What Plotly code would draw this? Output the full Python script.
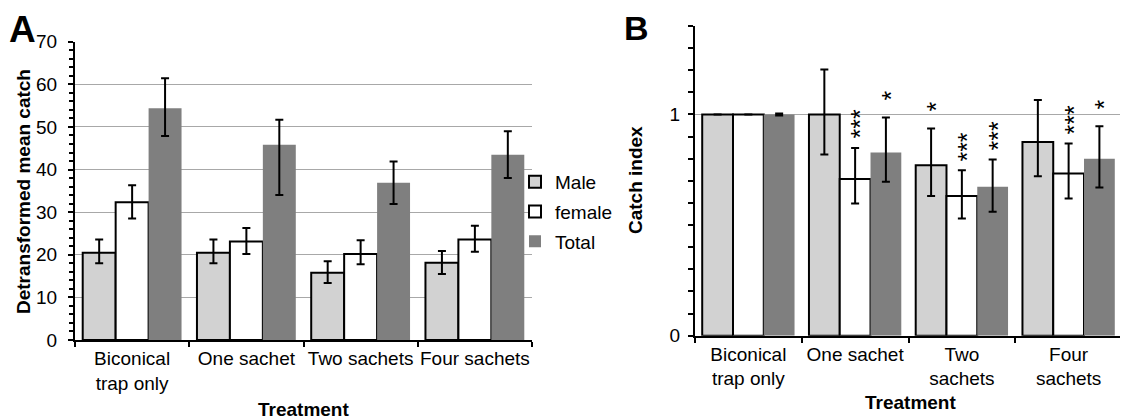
import plotly.graph_objects as go

W, H = 1128, 419
OFF = 8  # page offset of the figure inside the browser window

# ---------------- data ----------------
cats_A = ["Biconical<br>trap only", "One sachet", "Two sachets", "Four sachets"]
cats_B = ["Biconical<br>trap only", "One sachet", "Two<br>sachets", "Four<br>sachets"]
series = ["Male", "female", "Total"]

A_male = [20.5, 20.5, 15.8, 18.1]
A_male_hi = [23.6, 23.6, 18.5, 20.9]
A_male_lo = [18.0, 18.0, 13.4, 15.5]
A_female = [32.3, 23.1, 20.2, 23.6]
A_female_hi = [36.3, 26.3, 23.4, 26.8]
A_female_lo = [28.5, 20.2, 17.8, 20.7]
A_total = [54.4, 45.8, 36.9, 43.5]
A_total_hi = [61.4, 51.7, 41.9, 49.0]
A_total_lo = [47.9, 34.0, 31.9, 38.0]

B_male = [1.0, 1.0, 0.771, 0.876]
B_male_hi = [1.0, 1.203, 0.937, 1.065]
B_male_lo = [1.0, 0.819, 0.631, 0.721]
B_female = [1.0, 0.708, 0.631, 0.733]
B_female_hi = [1.0, 0.849, 0.748, 0.869]
B_female_lo = [1.0, 0.598, 0.530, 0.620]
B_total = [1.0, 0.828, 0.673, 0.800]
B_total_hi = [1.005, 0.986, 0.797, 0.947]
B_total_lo = [0.995, 0.696, 0.560, 0.670]

B_male_stars = [0, 0, 1, 0]
B_female_stars = [0, 3, 3, 3]
B_total_stars = [0, 1, 3, 1]

# ---------------- style ----------------
FONT = "Liberation Sans, Arial, sans-serif"
fills = {"Male": "#d2d2d2", "female": "#ffffff", "Total": "#7f7f7f"}
lines = {"Male": 2, "female": 2, "Total": 0}
BARGAP = 0.135

fig = go.Figure()


def add_series(name, cats, vals, hi, lo, xa, ya, show):
    fig.add_trace(go.Bar(
        x=cats, y=vals, name=name, xaxis=xa, yaxis=ya,
        showlegend=show, legendgroup=name,
        marker=dict(color=fills[name], line=dict(color="black", width=lines[name])),
        error_y=dict(type="data", symmetric=False,
                     array=[h - v for h, v in zip(hi, vals)],
                     arrayminus=[v - l for v, l in zip(vals, lo)],
                     color="black", thickness=2, width=4),
    ))


add_series("Male", cats_A, A_male, A_male_hi, A_male_lo, "x", "y", True)
add_series("female", cats_A, A_female, A_female_hi, A_female_lo, "x", "y", True)
add_series("Total", cats_A, A_total, A_total_hi, A_total_lo, "x", "y", True)
add_series("Male", cats_B, B_male, B_male_hi, B_male_lo, "x2", "y2", False)
add_series("female", cats_B, B_female, B_female_hi, B_female_lo, "x2", "y2", False)
add_series("Total", cats_B, B_total, B_total_hi, B_total_lo, "x2", "y2", False)

# significance stars: one vertical (rotated) text per stack
annotations = []
bw = (1 - BARGAP) / 3
for k, (stars, hi) in enumerate([(B_male_stars, B_male_hi), (B_female_stars, B_female_hi),
                                  (B_total_stars, B_total_hi)]):
    for i, n in enumerate(stars):
        if n == 0:
            continue
        annotations.append(dict(
            x=i + (k - 1) * bw, y=hi[i], xref="x2", yref="y2",
            text="*" * n, textangle=-90, showarrow=False,
            yanchor="bottom", xanchor="center", borderpad=0,
            xshift=5, yshift=8 if n > 1 else 16,
            font=dict(family=FONT, size=25, color="black")))


def px(xp):
    return (xp - OFF) / W


def py(yp):
    return 1 - (yp - OFF) / H


TITLE = dict(family=FONT, size=19, color="black")
annotations += [
    dict(text="<b>A</b>", x=px(8), y=1, xref="paper", yref="paper", xanchor="left",
         yanchor="top", borderpad=0, showarrow=False,
         font=dict(family=FONT, size=37, color="black")),
    dict(text="<b>B</b>", x=px(623), y=1, xref="paper", yref="paper", xanchor="left",
         yanchor="top", borderpad=0, showarrow=False,
         font=dict(family=FONT, size=34, color="black")),
    dict(text="<b>Detransformed mean catch</b>", x=px(23), y=py(192), xref="paper", yref="paper",
         xanchor="center", yanchor="middle", textangle=-90, showarrow=False, font=TITLE),
    dict(text="<b>Catch index</b>", x=px(635), y=py(180), xref="paper", yref="paper",
         xanchor="center", yanchor="middle", textangle=-90, showarrow=False, font=TITLE),
    dict(text="<b>Treatment</b>", x=px(303), y=py(409), xref="paper", yref="paper",
         xanchor="center", yanchor="middle", showarrow=False, font=TITLE),
    dict(text="<b>Treatment</b>", x=px(910), y=py(402), xref="paper", yref="paper",
         xanchor="center", yanchor="middle", showarrow=False, font=TITLE),
]

xcommon = dict(type="category", showline=True, linecolor="black", linewidth=2,
               ticks="outside", tickson="boundaries", ticklen=5, tickwidth=2,
               tickcolor="black", showgrid=False, tickangle=0,
               tickfont=dict(family=FONT, size=19, color="black"))
ycommon = dict(showline=True, linecolor="black", linewidth=2, ticks="outside",
               ticklen=5, tickwidth=2, tickcolor="black", zeroline=False,
               showgrid=True, gridcolor="#a8a8a8", gridwidth=1,
               tickfont=dict(family=FONT, size=19, color="black"))

fig.update_layout(
    width=W, height=H,
    margin=dict(l=0, r=0, t=0, b=0, autoexpand=False),
    paper_bgcolor="white", plot_bgcolor="white",
    barmode="group", bargap=BARGAP, bargroupgap=0,
    font=dict(family=FONT, color="black"),
    xaxis=dict(domain=[px(75), px(532)], anchor="y", **xcommon),
    yaxis=dict(domain=[py(340), py(41.7)], anchor="x", range=[0, 70], dtick=10,
               ticklabelstandoff=7,
               minor=dict(dtick=2, ticks="outside", ticklen=4, tickwidth=1.5,
                          tickcolor="black", showgrid=False),
               **ycommon),
    xaxis2=dict(domain=[px(695), px(1122)], anchor="y2", **xcommon),
    yaxis2=dict(domain=[py(335.7), py(26)], anchor="x2", range=[0, 1.4],
                tickvals=[0, 1], ticktext=["0", "1"], ticklabelstandoff=4,
                minor=dict(dtick=0.1, ticks="outside", ticklen=5, tickwidth=1.5,
                           tickcolor="black", showgrid=False),
                **ycommon),
    legend=dict(x=px(515), y=py(163), xanchor="left", yanchor="top",
                bgcolor="rgba(0,0,0,0)", tracegroupgap=2,
                font=dict(family=FONT, size=19, color="black")),
    annotations=annotations,
)

fig.write_html("out.html")
